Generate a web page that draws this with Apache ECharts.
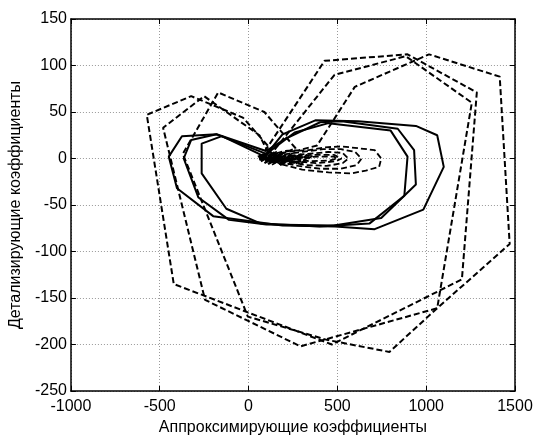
<!DOCTYPE html>
<html>
<head>
<meta charset="utf-8">
<script src="https://cdn.jsdelivr.net/npm/echarts@6/dist/echarts.min.js"></script>
<style>
html,body{margin:0;padding:0;background:#fff;}
#chart{width:537px;height:441px;}
</style>
</head>
<body>
<div id="chart"></div>
<script>
// Axis setup
var xTicks = [-1000, -500, 0, 500, 1000, 1500];
var yTicks = [-250, -200, -150, -100, -50, 0, 50, 100, 150];
var xName = 'Аппроксимирующие коэффициенты';
var yName = 'Детализирующие коэффициенты';

// Large dashed loops [x, y]
var dashLoopA = [[60,0],[200,8],[284,9],[386,14],[598,77],[1016,112],[1414,88],[1470,-92],[1062,-161],[793,-208],[441,-195],[-4,-170],[-370,5],[-171,71],[89,50],[265,11],[120,0]];
var dashLoopB = [[60,0],[89,7],[428,105],[895,112],[1285,71],[1201,-130],[469,-200],[-421,-135],[-573,47],[-323,67],[-32,44],[107,14],[130,5]];
var dashLoopC = [[150,0],[145,9],[484,90],[885,110],[1257,60],[1062,-161],[292,-202],[-245,-152],[-481,33],[-250,67],[61,25],[120,3]];

// Small dashed loops around the centre
var dashSmall1 = [[130,4],[250,8],[339,9],[430,12],[524,13],[620,11],[710,9],[747,0],[735,-9],[660,-13],[580,-16],[450,-15],[302,-12],[180,-6],[120,0]];
var dashSmall2 = [[150,3],[300,7],[420,10],[520,10],[600,7],[636,0],[610,-7],[520,-11],[400,-11],[280,-8],[160,-3]];
var dashSmall3 = [[180,2],[330,5],[450,7],[530,6],[562,0],[530,-5],[440,-8],[320,-7],[200,-3]];
var dashSmall4 = [[220,2],[370,4],[480,4],[524,0],[490,-3],[380,-5],[260,-3]];
var dashSmall5 = [[260,1],[400,2],[480,2],[500,0],[460,-2],[350,-3],[270,-1]];

// Solid loops
var solidLoop1 = [[90,2],[191,26],[376,41],[617,40],[942,35],[1062,25],[1099,-9],[984,-55],[710,-76],[487,-73],[191,-72],[-199,-62],[-403,-32],[-449,2],[-375,24],[-180,26],[98,8]];
var solidLoop2 = [[98,8],[207,21],[403,39],[524,40],[840,32],[932,9],[942,-28],[747,-64],[480,-72],[100,-71],[-110,-66],[-282,-42],[-365,0],[-323,20],[-180,26],[100,5]];
var solidLoop3 = [[100,5],[260,28],[450,38],[800,30],[895,2],[877,-40],[680,-70],[400,-73],[70,-70],[-125,-54],[-264,-16],[-264,16],[-150,24],[80,3]];

// Dense scribble at the centre
var centreCluster = [[52,2],[120,7],[70,-3],[150,6],[90,-5],[180,5],[110,-6],[210,4],[140,-5],[240,3],[170,-6],[270,3],[200,-4],[300,2],[230,-3],[60,1],[100,4],[75,-2],[130,3],[95,-3],[160,2],[120,-4],[190,2],[60,-1],[110,1],[80,3],[140,-2]];
var centreDashCluster = [[70,0],[160,8],[100,-4],[200,7],[130,-7],[250,6],[170,-8],[300,5],[220,-7],[330,4],[260,-6],[360,3],[300,-5],[90,1]];

var dashedSets = [dashLoopA, dashLoopB, dashLoopC, dashSmall1, dashSmall2, dashSmall3, dashSmall4, dashSmall5, centreDashCluster];
var solidSets = [solidLoop1, solidLoop2, solidLoop3, centreCluster];

var series = [];
dashedSets.forEach(function (d, i) {
  series.push({
    type: 'line', data: d, symbol: 'none', xAxisIndex: 0, yAxisIndex: 0,
    lineStyle: {color: '#000', width: i < 3 ? 2 : 1.8, type: [6, 3]},
    silent: true, z: 3
  });
});
solidSets.forEach(function (d) {
  series.push({
    type: 'line', data: d, symbol: 'none', xAxisIndex: 0, yAxisIndex: 0,
    lineStyle: {color: '#000', width: 2, type: 'solid'},
    silent: true, z: 3
  });
});

var font = 'Liberation Sans, Arial, sans-serif';
var xMin = xTicks[0], xMax = xTicks[xTicks.length - 1];
var yMin = yTicks[0], yMax = yTicks[yTicks.length - 1];
var plain = function (v) { return String(v); };

var chart = echarts.init(document.getElementById('chart'), null, {renderer: 'canvas'});
chart.setOption({
  animation: false,
  backgroundColor: '#fff',
  grid: {left: 66, right: 22, top: 19, bottom: 42},
  xAxis: [{
    type: 'value', min: xMin, max: xMax, interval: 500, position: 'bottom',
    name: xName, nameLocation: 'middle', nameGap: 29,
    nameTextStyle: {color: '#000', fontSize: 16, fontFamily: font},
    axisLine: {show: true, onZero: false, lineStyle: {color: '#000', width: 1.5}},
    axisTick: {show: true, inside: true, length: 5, lineStyle: {color: '#000', width: 1}},
    axisLabel: {color: '#000', fontSize: 16, fontFamily: font, margin: 8, formatter: plain},
    splitLine: {show: true, lineStyle: {color: '#999', type: [1, 2], width: 1}}
  }, {
    type: 'value', min: xMin, max: xMax, interval: 500, position: 'top',
    axisLine: {show: true, onZero: false, lineStyle: {color: '#000', width: 1.5}},
    axisTick: {show: true, inside: true, length: 5, lineStyle: {color: '#000', width: 1}},
    axisLabel: {show: false}, splitLine: {show: false}
  }],
  yAxis: [{
    type: 'value', min: yMin, max: yMax, interval: 50, position: 'left',
    name: yName, nameLocation: 'middle', nameGap: 36, nameRotate: 90,
    nameTextStyle: {color: '#000', fontSize: 16, fontFamily: font},
    axisLine: {show: true, onZero: false, lineStyle: {color: '#000', width: 1.5}},
    axisTick: {show: true, inside: true, length: 5, lineStyle: {color: '#000', width: 1}},
    axisLabel: {color: '#000', fontSize: 16, fontFamily: font, margin: 4, formatter: plain},
    splitLine: {show: true, lineStyle: {color: '#999', type: [1, 2], width: 1}}
  }, {
    type: 'value', min: yMin, max: yMax, interval: 50, position: 'right',
    axisLine: {show: true, onZero: false, lineStyle: {color: '#000', width: 1.5}},
    axisTick: {show: true, inside: true, length: 5, lineStyle: {color: '#000', width: 1}},
    axisLabel: {show: false}, splitLine: {show: false}
  }],
  series: series
});
</script>
</body>
</html>
